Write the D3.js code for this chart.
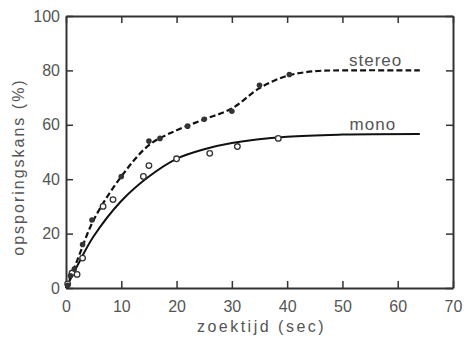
<!DOCTYPE html>
<html>
<head>
<meta charset="utf-8">
<script src="https://cdn.jsdelivr.net/npm/d3@7"></script>
<style>
  body { margin: 0; background: #fff; }
  text { font-family: "Liberation Sans", sans-serif; fill: #555; }
</style>
</head>
<body>
<div id="chart"></div>
<script>
// measured points (filled = stereo, open = mono)
const stereoPts = [[0.3, 1], [0.8, 4.5], [1.5, 7], [3, 16], [4.7, 25], [10, 41], [15, 54], [17, 55],
                   [22, 59.5], [25, 62], [30, 65], [35, 74.5], [40.4, 78.5]];
const monoPts = [[0.3, 1.5], [1.1, 5.5], [2, 5], [3, 11], [6.7, 30], [8.5, 32.5], [14, 41], [15, 45],
                 [20, 47.5], [26, 49.5], [31, 52], [38.4, 55]];
// fitted curves
const stereoCurve = [[0, 0], [2, 10], [5, 25], [10, 41], [15, 52.5], [20, 58], [25, 62], [30, 66],
                     [35, 73.5], [40, 78], [45, 79.7], [50, 80], [64, 80]];
const monoCurve = [[0, 0], [2, 8], [5, 19], [10, 32], [15, 41], [20, 47.5], [25, 51], [30, 53.3],
                   [40, 55.6], [50, 56.4], [64, 56.6]];
const xTicks = [0, 10, 20, 30, 40, 50, 60, 70];
const yTicks = [0, 20, 40, 60, 80, 100];

const W = 465, H = 337;
const margin = { top: 16, right: 12, bottom: 49, left: 66 };
const width = W - margin.left - margin.right,
      height = H - margin.top - margin.bottom;

const svg = d3.select("#chart").append("svg")
    .attr("width", W).attr("height", H)
  .append("g")
    .attr("transform", "translate(" + margin.left + "," + margin.top + ")");

const x = d3.scaleLinear().domain([0, 70]).range([0, width]);
const y = d3.scaleLinear().domain([0, 100]).range([height, 0]);

// frame with inward ticks on every side
const axisStyle = g => {
  g.select(".domain").attr("stroke", "#333").attr("stroke-width", 2);
  g.selectAll(".tick line").attr("stroke", "#333").attr("stroke-width", 1.5);
};
svg.append("g").attr("transform", `translate(0,${height})`)
  .call(d3.axisBottom(x).tickValues(xTicks).tickSizeInner(-7).tickSizeOuter(0).tickPadding(13))
  .call(axisStyle)
  .call(g => g.selectAll("text").attr("font-size", 16).attr("fill", "#555").attr("font-family", "Liberation Sans"));
svg.append("g")
  .call(d3.axisTop(x).tickValues(xTicks).tickSizeInner(-7).tickSizeOuter(0).tickFormat(""))
  .call(axisStyle);
svg.append("g")
  .call(d3.axisLeft(y).tickValues(yTicks).tickSizeInner(-7).tickSizeOuter(0).tickPadding(12))
  .call(axisStyle)
  .call(g => g.selectAll("text").attr("font-size", 16).attr("fill", "#555").attr("font-family", "Liberation Sans")
    .attr("dx", 6));
svg.append("g").attr("transform", `translate(${width},0)`)
  .call(d3.axisRight(y).tickValues(yTicks).tickSizeInner(-7).tickSizeOuter(0).tickFormat(""))
  .call(axisStyle);

// curves
const line = d3.line().x(d => x(d[0])).y(d => y(d[1])).curve(d3.curveCatmullRom.alpha(0.5));
svg.append("path").datum(monoCurve)
  .attr("d", line).attr("fill", "none").attr("stroke", "#111").attr("stroke-width", 2);
svg.append("path").datum(stereoCurve)
  .attr("d", line).attr("fill", "none").attr("stroke", "#111").attr("stroke-width", 2.2)
  .attr("stroke-dasharray", "6,3");

// markers
svg.selectAll(".mono").data(monoPts).enter().append("circle")
  .attr("cx", d => x(d[0])).attr("cy", d => y(d[1])).attr("r", 2.8)
  .attr("fill", "#fff").attr("stroke", "#333").attr("stroke-width", 1.3);
svg.selectAll(".stereo").data(stereoPts).enter().append("circle")
  .attr("cx", d => x(d[0])).attr("cy", d => y(d[1])).attr("r", 2.8)
  .attr("fill", "#333");

// curve labels
svg.append("text").attr("x", x(56)).attr("y", y(81.5)).attr("text-anchor", "middle")
  .attr("font-size", 17).attr("letter-spacing", 1).text("stereo");
svg.append("text").attr("x", x(55.5)).attr("y", y(58)).attr("text-anchor", "middle")
  .attr("font-size", 17).attr("letter-spacing", 1).text("mono");

// axis titles
svg.append("text").attr("x", width / 2 + 2).attr("y", height + 44).attr("text-anchor", "middle")
  .attr("font-size", 16).attr("letter-spacing", 2.5).text("zoektijd (sec)");
svg.append("text").attr("transform", `translate(-42,${height / 2 + 15})rotate(-90)`)
  .attr("text-anchor", "middle").attr("font-size", 16).attr("letter-spacing", 2)
  .text("opsporingskans (%)");
</script>
</body>
</html>
